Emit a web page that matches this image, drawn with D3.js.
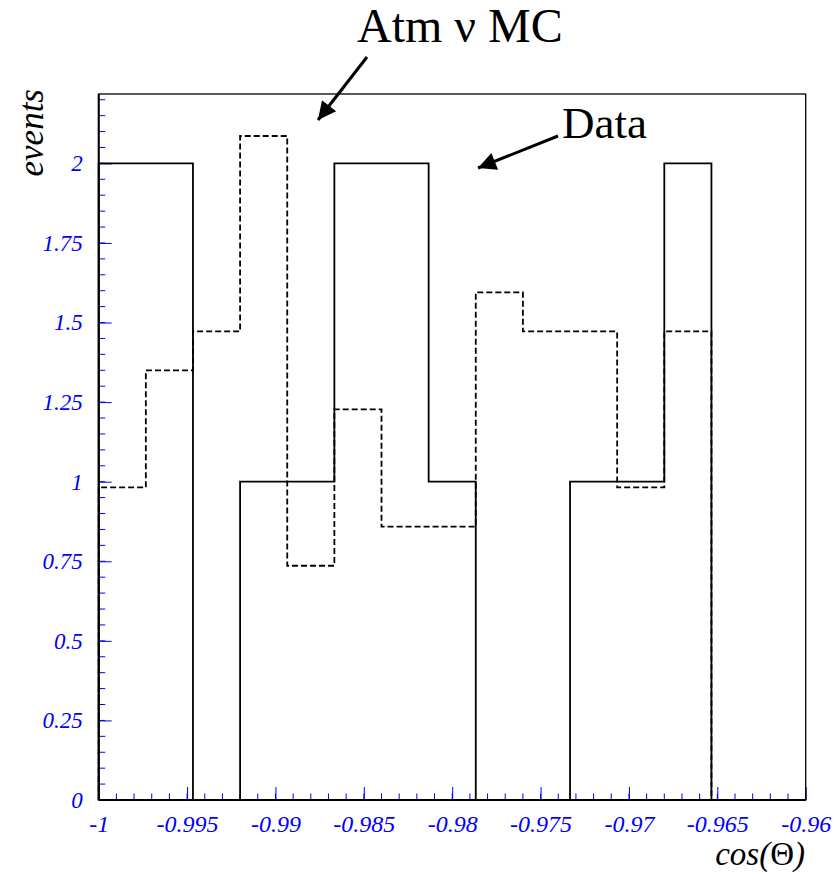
<!DOCTYPE html>
<html>
<head>
<meta charset="utf-8">
<script src="https://cdn.jsdelivr.net/npm/d3@7"></script>
<style>
  body { margin: 0; background: #fff; }
  text { font-family: "Liberation Serif", "Times New Roman", serif; }
</style>
</head>
<body>
<svg width="834" height="874"></svg>
<script>
// 15 bins between -1 and -0.96
var binEdges = [-1, -0.997333, -0.994667, -0.992, -0.989333, -0.986667, -0.984, -0.981333,
                -0.978667, -0.976, -0.973333, -0.970667, -0.968, -0.965333, -0.962667, -0.96];
var dataCounts = [2, 2, 0, 1, 1, 2, 2, 1, 0, 0, 1, 1, 2, 0, 0];
var mcCounts = [0.982, 1.350, 1.472, 2.086, 0.736, 1.227, 0.859, 0.859, 1.595, 1.472, 1.472, 0.982, 1.472, 0, 0];
var xTickLabels = [-1, -0.995, -0.99, -0.985, -0.98, -0.975, -0.97, -0.965, -0.96];
var yTickLabels = [0, 0.25, 0.5, 0.75, 1, 1.25, 1.5, 1.75, 2];

var svg = d3.select("svg");
var padL = 98.7, padR = 805.7, padT = 94, padB = 800;

var x = d3.scaleLinear().domain([-1, -0.96]).range([padL, padR]);
var y = d3.scaleLinear().domain([0, 2.218]).range([padB, padT]);

// step outline like ROOT
function stepPath(vals) {
    var pts = [[x(binEdges[0]), y(0)]];
    vals.forEach(function (v, i) {
        pts.push([x(binEdges[i]), y(v)]);
        pts.push([x(binEdges[i + 1]), y(v)]);
    });
    pts.push([x(binEdges[binEdges.length - 1]), y(0)]);
    return d3.line()(pts);
}

var blue = "#0000ff";

// minor ticks
var xMinor = d3.range(0, 41).map(function (i) { return -1 + i * 0.001; });
var yMinor = d3.range(0, 45).map(function (i) { return i * 0.05; }).filter(function (v) { return v <= 2.218; });

svg.append("g").selectAll("line").data(xMinor).enter().append("line")
    .attr("x1", d => x(d)).attr("x2", d => x(d))
    .attr("y1", padB).attr("y2", padB - 6.5)
    .attr("stroke", blue).attr("stroke-width", 1);
svg.append("g").selectAll("line").data(yMinor).enter().append("line")
    .attr("x1", padL).attr("x2", padL + 6.5)
    .attr("y1", d => y(d)).attr("y2", d => y(d))
    .attr("stroke", blue).attr("stroke-width", 1);

// major axes
var xAxis = d3.axisBottom(x).tickValues(xTickLabels).tickSize(-13).tickPadding(15)
    .tickFormat(d => String(+d.toFixed(3)));
var gx = svg.append("g").attr("transform", "translate(0," + padB + ")").call(xAxis);
gx.select(".domain").remove();
gx.selectAll("line").attr("stroke", blue).attr("stroke-width", 1);
gx.selectAll("text").attr("fill", blue).style("font-size", "24px").style("font-style", "italic")
    .style("font-family", "'Liberation Serif', serif");

var yAxis = d3.axisLeft(y).tickValues(yTickLabels).tickSize(-13).tickPadding(16)
    .tickFormat(d => String(d));
var gy = svg.append("g").attr("transform", "translate(" + padL + ",0)").call(yAxis);
gy.select(".domain").remove();
gy.selectAll("line").attr("stroke", blue).attr("stroke-width", 1);
gy.selectAll("text").attr("fill", blue).style("font-size", "23px").style("font-style", "italic")
    .style("font-family", "'Liberation Serif', serif");

// histograms
svg.append("path")
    .attr("d", stepPath(mcCounts))
    .style("fill", "none")
    .style("stroke", "#000")
    .style("stroke-width", 1.8)
    .style("stroke-dasharray", "6,3");

svg.append("path")
    .attr("d", stepPath(dataCounts))
    .style("fill", "none")
    .style("stroke", "#000")
    .style("stroke-width", 1.8);

// frame
svg.append("rect")
    .attr("x", padL).attr("y", padT)
    .attr("width", padR - padL).attr("height", padB - padT)
    .style("fill", "none").style("stroke", "#000").style("stroke-width", 1.3);
svg.append("line").attr("x1", padL).attr("x2", padR).attr("y1", padB).attr("y2", padB)
    .style("stroke", "#000").style("stroke-width", 2);
svg.append("line").attr("x1", padL).attr("x2", padL).attr("y1", padT).attr("y2", padB)
    .style("stroke", "#000").style("stroke-width", 2);

// axis titles
svg.append("text")
    .attr("transform", "translate(43,89) rotate(-90)")
    .attr("text-anchor", "end")
    .style("font-size", "35px").style("font-style", "italic")
    .text("events");

var xt = svg.append("text")
    .attr("x", 805).attr("y", 865)
    .attr("text-anchor", "end")
    .style("font-size", "33px").style("font-style", "italic");
xt.append("tspan").text("cos(");
xt.append("tspan").style("font-style", "normal").text("Θ");
xt.append("tspan").text(")");

// annotations
var defs = svg.append("defs");
defs.append("marker")
    .attr("id", "ah").attr("viewBox", "0 0 10 10")
    .attr("refX", 10).attr("refY", 5)
    .attr("markerWidth", 7).attr("markerHeight", 6)
    .attr("markerUnits", "strokeWidth")
    .attr("orient", "auto")
    .append("path").attr("d", "M0,0 L10,5 L0,10 z").attr("fill", "#000");

svg.append("text").attr("x", 357).attr("y", 42)
    .style("font-size", "48px").text("Atm ν MC");
svg.append("text").attr("x", 562).attr("y", 138)
    .style("font-size", "45px").text("Data");

svg.append("line").attr("x1", 367).attr("y1", 57).attr("x2", 318).attr("y2", 120)
    .style("stroke", "#000").style("stroke-width", 3).attr("marker-end", "url(#ah)");
svg.append("line").attr("x1", 558).attr("y1", 136).attr("x2", 478).attr("y2", 168)
    .style("stroke", "#000").style("stroke-width", 3).attr("marker-end", "url(#ah)");
</script>
</body>
</html>
